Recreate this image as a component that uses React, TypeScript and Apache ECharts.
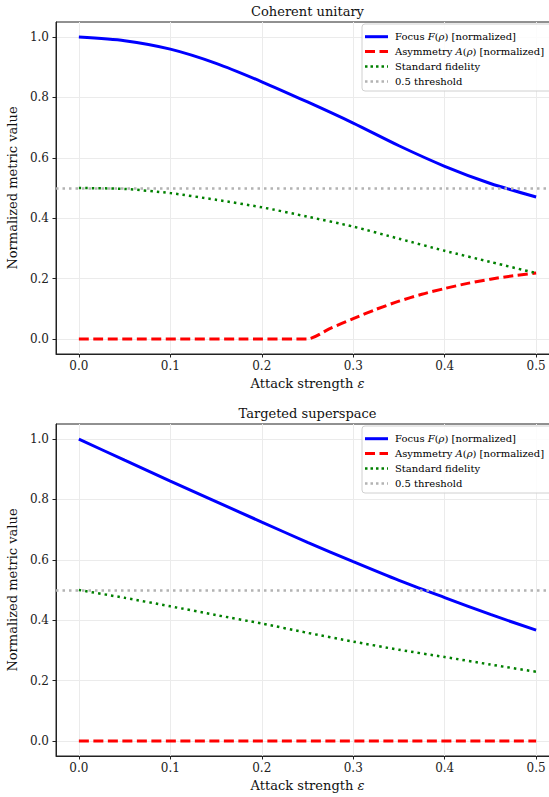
import React, { useEffect, useRef } from 'react';
import * as echarts from 'echarts';

// ----- data -----
const EPS = [0, 0.05, 0.1, 0.15, 0.2, 0.25, 0.3, 0.35, 0.4, 0.45, 0.5];
const EPS_RED_TOP = [0, 0.25, 0.275, 0.3, 0.325, 0.35, 0.375, 0.4, 0.425, 0.45, 0.475, 0.5];

const TOP_FOCUS = [1.0, 0.988, 0.96, 0.913, 0.852, 0.785, 0.715, 0.64, 0.572, 0.515, 0.47];
const TOP_ASYM = [0, 0, 0.035, 0.067, 0.098, 0.125, 0.148, 0.167, 0.184, 0.198, 0.209, 0.218];
const TOP_FID = [0.5, 0.497, 0.483, 0.461, 0.436, 0.405, 0.372, 0.332, 0.292, 0.255, 0.218];

const BOT_FOCUS = [1.0, 0.93, 0.861, 0.793, 0.725, 0.658, 0.594, 0.532, 0.475, 0.419, 0.367];
const BOT_ASYM = [0, 0, 0, 0, 0, 0, 0, 0, 0, 0, 0];
const BOT_FID = [0.5, 0.474, 0.446, 0.417, 0.389, 0.358, 0.329, 0.302, 0.278, 0.253, 0.229];

const THRESHOLD = 0.5;
const X_TICKS = [0, 0.1, 0.2, 0.3, 0.4, 0.5];
const Y_TICKS = [0, 0.2, 0.4, 0.6, 0.8, 1.0];
const TITLES = ['Coherent unitary', 'Targeted superspace'];
const X_NAME = '{n|Attack strength }{i|ε}';
const Y_NAME = 'Normalized metric value';

const FONT = '"DejaVu Serif", serif';

const zip = (xs: number[], ys: number[]) => xs.map((x, i) => [x, ys[i]]);

export default function App() {
  const ref = useRef<HTMLDivElement>(null);
  useEffect(() => {
    document.body.style.margin = '0';
    const chart = echarts.init(ref.current!, null, { renderer: 'svg' });

    const panels = [
      { top: 22, focus: zip(EPS, TOP_FOCUS), asym: zip(EPS_RED_TOP, TOP_ASYM), fid: zip(EPS, TOP_FID) },
      { top: 424, focus: zip(EPS, BOT_FOCUS), asym: zip(EPS, BOT_ASYM), fid: zip(EPS, BOT_FID) },
    ];
    const gridLeft = 56;
    const gridWidth = 503;
    const gridHeight = 332;

    const grids = panels.map((p) => ({
      left: gridLeft,
      top: p.top,
      width: gridWidth,
      height: gridHeight,
      show: true,
      borderColor: '#222',
      borderWidth: 1,
      backgroundColor: 'transparent',
      containLabel: false,
      outerBoundsMode: 'none',
    }));

    const xAxes = panels.map((_, i) => ({
      type: 'value',
      gridIndex: i,
      min: -0.025,
      max: 0.525,
      name: X_NAME,
      nameLocation: 'middle',
      nameGap: 23,
      nameTextStyle: {
        fontFamily: FONT, fontSize: 13, color: '#111',
        rich: {
          n: { fontFamily: FONT, fontSize: 13, color: '#111' },
          i: { fontFamily: FONT, fontSize: 13, color: '#111', fontStyle: 'italic' },
        },
      },
      axisLine: { show: true, onZero: false, lineStyle: { color: '#222', width: 1 } },
      axisTick: { show: true, length: 3.5, customValues: X_TICKS, lineStyle: { color: '#222' } },
      axisLabel: {
        customValues: X_TICKS,
        formatter: (v: number) => v.toFixed(1),
        fontFamily: FONT,
        fontSize: 12,
        color: '#222',
        margin: 6,
      },
      splitLine: { show: true, lineStyle: { color: '#ebebeb', width: 1 } },
    }));

    const yAxes = panels.map((_, i) => ({
      type: 'value',
      gridIndex: i,
      min: -0.05,
      max: 1.05,
      name: Y_NAME,
      nameLocation: 'middle',
      nameGap: 31,
      nameTextStyle: { fontFamily: FONT, fontSize: 13, color: '#111' },
      axisLine: { show: true, onZero: false, lineStyle: { color: '#222', width: 1 } },
      axisTick: { show: true, length: 3.5, customValues: Y_TICKS, lineStyle: { color: '#222' } },
      axisLabel: {
        customValues: Y_TICKS,
        formatter: (v: number) => v.toFixed(1),
        fontFamily: FONT,
        fontSize: 12,
        color: '#222',
        margin: 7,
      },
      splitLine: { show: true, lineStyle: { color: '#ebebeb', width: 1 } },
    }));

    const series: any[] = [];
    panels.forEach((p, i) => {
      series.push({
        type: 'line', xAxisIndex: i, yAxisIndex: i, data: p.focus, showSymbol: false, symbol: 'none',
        smooth: 0.25, clip: false,
        lineStyle: { color: '#0000ff', width: 3 }, z: 3,
      });
      series.push({
        type: 'line', xAxisIndex: i, yAxisIndex: i, data: p.asym, showSymbol: false, symbol: 'none',
        smooth: i === 0 ? 0.25 : false, clip: false,
        lineStyle: { color: '#ff0000', width: 3, type: [10, 4.5], cap: 'butt' }, z: 3,
      });
      series.push({
        type: 'line', xAxisIndex: i, yAxisIndex: i, data: p.fid, showSymbol: false, symbol: 'none',
        smooth: 0.25, clip: false,
        lineStyle: { color: '#008000', width: 2.5, type: [2.5, 4], cap: 'butt' }, z: 3,
      });
      series.push({
        type: 'line', xAxisIndex: i, yAxisIndex: i, data: [], symbol: 'none', silent: true,
        markLine: {
          silent: true, symbol: 'none', label: { show: false },
          lineStyle: { color: '#b3b3b3', width: 2.5, type: [2.5, 4] },
          data: [{ yAxis: THRESHOLD }],
        },
        z: 4,
      });
    });

    const legendEntries = [
      { text: '{n|Focus }{i|F}{n|(}{i|ρ}{n|) [normalized]}', color: '#0000ff', dash: null as any, w: 3 },
      { text: '{n|Asymmetry }{i|A}{n|(}{i|ρ}{n|) [normalized]}', color: '#ff0000', dash: [10, 4.5], w: 3 },
      { text: '{n|Standard fidelity}', color: '#008000', dash: [2.5, 3], w: 2.5 },
      { text: '{n|0.5 threshold}', color: '#b3b3b3', dash: [2.5, 3], w: 2.5 },
    ];
    const rich = {
      n: { fontFamily: FONT, fontSize: 10, color: '#111' },
      i: { fontFamily: FONT, fontSize: 10, color: '#111', fontStyle: 'italic' },
    };

    const graphics: any[] = [];
    panels.forEach((p, i) => {
      const cx = gridLeft + gridWidth / 2;
      graphics.push({
        type: 'text', x: cx, y: p.top - 11,
        style: { text: TITLES[i], fontFamily: FONT, fontSize: 13, fill: '#111', align: 'center', verticalAlign: 'middle' },
      });
      const bx = 362, by = p.top + 2;
      graphics.push({
        type: 'rect', shape: { x: bx, y: by, width: 192, height: 67, r: 3 },
        style: { fill: 'rgba(255,255,255,0.85)', stroke: '#d0d0d0', lineWidth: 1 }, z: 10,
      });
      legendEntries.forEach((e, k) => {
        const ly = by + 12.7 + k * 14.9;
        graphics.push({
          type: 'line', shape: { x1: bx + 3, y1: ly, x2: bx + 26, y2: ly },
          style: { stroke: e.color, lineWidth: e.w, lineDash: e.dash || undefined }, z: 11,
        });
        graphics.push({
          type: 'text', x: bx + 33, y: ly,
          style: { text: e.text, rich, verticalAlign: 'middle', align: 'left' }, z: 11,
        });
      });
    });

    chart.setOption({
      animation: false,
      backgroundColor: '#ffffff',
      grid: grids,
      xAxis: xAxes,
      yAxis: yAxes,
      series,
      graphic: graphics,
    });
    return () => chart.dispose();
  }, []);
  return <div ref={ref} style={{ width: 549, height: 797 }} />;
}
